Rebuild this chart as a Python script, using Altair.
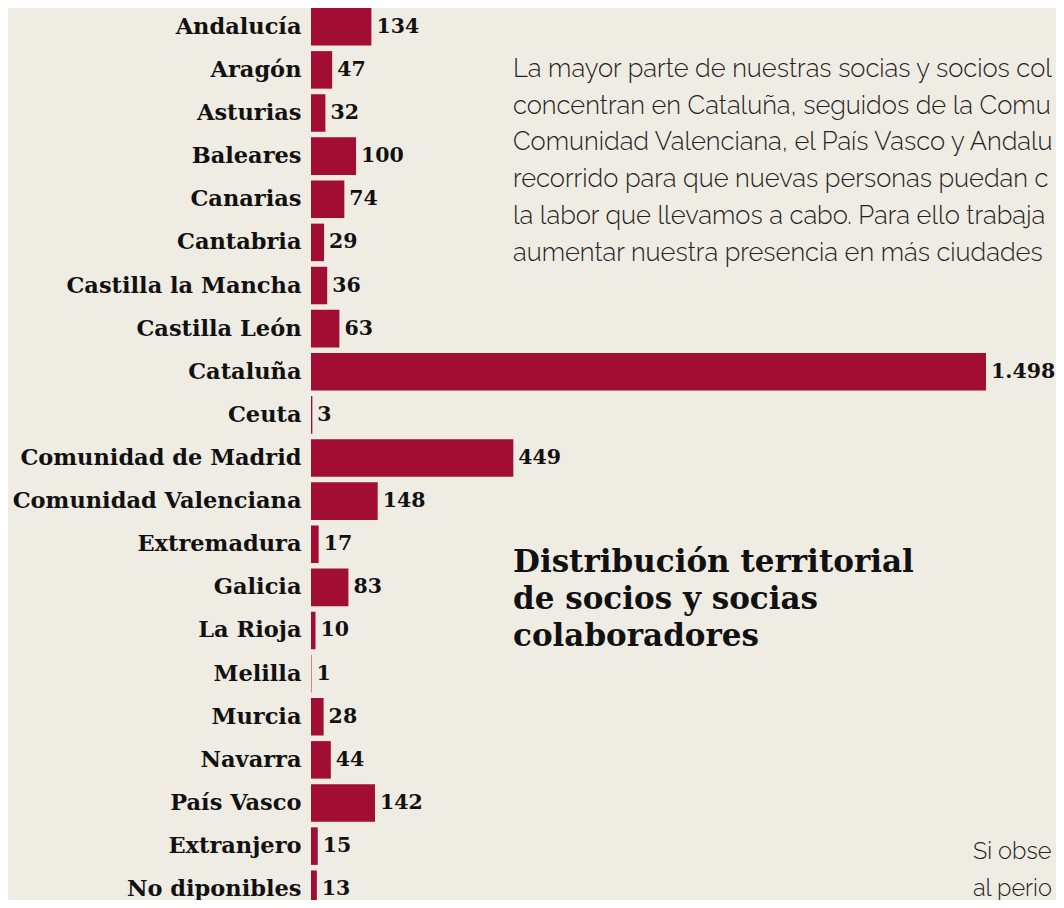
import altair as alt
import pandas as pd

regions = ["Andalucía", "Aragón", "Asturias", "Baleares", "Canarias", "Cantabria",
           "Castilla la Mancha", "Castilla León", "Cataluña", "Ceuta",
           "Comunidad de Madrid", "Comunidad Valenciana", "Extremadura", "Galicia",
           "La Rioja", "Melilla", "Murcia", "Navarra", "País Vasco", "Extranjero",
           "No diponibles"]
values = [134, 47, 32, 100, 74, 29, 36, 63, 1498, 3, 449, 148, 17, 83, 10, 1, 28, 44,
          142, 15, 13]

title_lines = ["Distribución territorial", "de socios y socias", "colaboradores"]
para_lines = [
    "La mayor parte de nuestras socias y socios col",
    "concentran en Cataluña, seguidos de la Comu",
    "Comunidad Valenciana, el País Vasco y Andalu",
    "recorrido para que nuevas personas puedan c",
    "la labor que llevamos a cabo. Para ello trabaja",
    "aumentar nuestra presencia en más ciudades",
]
foot_lines = ["Si obse", "al perio"]

df = pd.DataFrame({"region": regions, "value": values})
df["label"] = [f"{v:,}".replace(",", ".") for v in values]

SLAB = "DejaVu Serif"
BAR = "#a20d33"
PLOT_W = 745
XMAX = 1498 * PLOT_W / 675

base = alt.Chart(df)
y = alt.Y("region:N", sort=regions, title=None,
          scale=alt.Scale(paddingInner=0.13, paddingOuter=0, range=[0, 900]),
          axis=alt.Axis(domain=False, ticks=False, labelFont=SLAB, labelFontSize=22.5,
                        labelFontWeight="bold", labelColor="#111111", labelPadding=10,
                        labelLimit=400))
x = alt.X("value:Q", scale=alt.Scale(domain=[0, XMAX]), axis=None)

bars = base.mark_bar(color=BAR).encode(x=x, y=y)
labels = base.mark_text(align="left", baseline="middle", dx=5, font=SLAB, fontSize=20.5,
                        fontWeight="bold", color="#111111").encode(
    x=x, y=alt.Y("region:N", sort=regions), text="label:N")

one = alt.Data(values=[{"k": 0}])
title = alt.Chart(one).mark_text(
    text=title_lines, align="left", baseline="alphabetic", font=SLAB, fontSize=31,
    fontWeight="bold", color="#111111", lineHeight=37
).encode(x=alt.value(202), y=alt.value(564))
para = alt.Chart(one).mark_text(
    text=para_lines, align="left", baseline="alphabetic", font="Raleway, Lato",
    fontSize=25.5, fontWeight=300, color="#222222", lineHeight=36.7
).encode(x=alt.value(202), y=alt.value(69))
foot = alt.Chart(one).mark_text(
    text=foot_lines, align="left", baseline="alphabetic", font="Raleway, Lato",
    fontSize=23.5, fontWeight=300, color="#222222", lineHeight=37
).encode(x=alt.value(662), y=alt.value(851))

chart = alt.layer(bars, labels, title, para, foot).properties(
    width=PLOT_W, height=892,
    autosize=alt.AutoSizeParams(type="none"),
    padding={"left": 303, "top": 0, "right": 0, "bottom": 0},
    background="#efece3",
).configure_view(stroke=None)

chart.save("out.html", embed_options={"renderer": "svg", "actions": False})
